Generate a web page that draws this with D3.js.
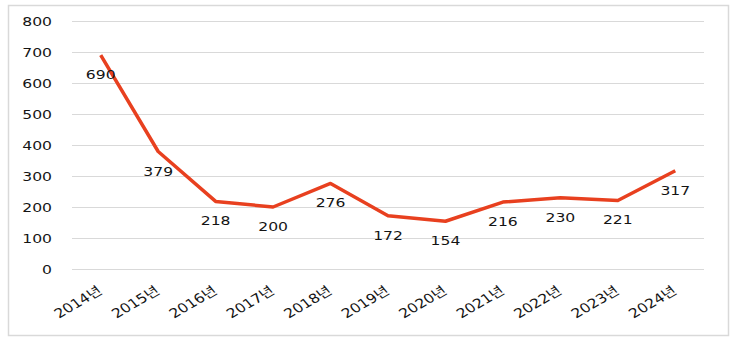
<!DOCTYPE html>
<html>
<head>
<meta charset="utf-8">
<script src="https://cdn.jsdelivr.net/npm/d3@7"></script>
<style>
  html, body { margin: 0; padding: 0; background: #fff; }
  svg { display: block; }
  text { font-family: "DejaVu Sans", Verdana, "Noto Sans CJK KR", sans-serif; fill: #141414; }
</style>
</head>
<body>
<svg id="chart" width="738" height="344"></svg>
<script>
// Yearly counts, 2014–2024
const years = ["2014년", "2015년", "2016년", "2017년", "2018년", "2019년", "2020년", "2021년", "2022년", "2023년", "2024년"];
const counts = [690, 379, 218, 200, 276, 172, 154, 216, 230, 221, 317];
const yTicks = [0, 100, 200, 300, 400, 500, 600, 700, 800];

const svg = d3.select("#chart");
const plot = { left: 72, right: 704, top: 21, bottom: 269 };
const stretch = 1.2; // wide lettering used for all chart text

// outer frame
svg.append("rect")
  .attr("x", 8.5).attr("y", 5.5)
  .attr("width", 720).attr("height", 330)
  .attr("fill", "#fff")
  .attr("stroke", "#d9d9d9").attr("stroke-width", 1.5);

const x = d3.scalePoint().domain(years).range([plot.left, plot.right]).padding(0.5);
const y = d3.scaleLinear().domain([0, 800]).range([plot.bottom, plot.top]);

// horizontal gridlines and value axis
const yAxis = svg.append("g")
  .attr("transform", `translate(${plot.left},0)`)
  .call(d3.axisLeft(y).tickValues(yTicks).tickSize(-(plot.right - plot.left)).tickPadding(0));
yAxis.select(".domain").remove();
yAxis.selectAll(".tick line").attr("stroke", "#d9d9d9").attr("stroke-width", 1.2);
yAxis.selectAll(".tick text")
  .attr("x", 0)
  .attr("font-size", 13)
  .attr("fill", "#141414")
  .attr("transform", `translate(-20,0) scale(${stretch},1)`);

// category axis labels, slanted
const xAxis = svg.append("g")
  .attr("transform", `translate(0,${plot.bottom})`)
  .call(d3.axisBottom(x).tickSize(0).tickPadding(0));
xAxis.select(".domain").remove();
xAxis.selectAll(".tick text")
  .attr("y", 0)
  .attr("dy", 0)
  .attr("font-size", 13)
  .attr("fill", "#141414")
  .attr("text-anchor", "end")
  .attr("transform", `translate(2,24) scale(${stretch},1) rotate(-35)`);

// line
const line = d3.line().x((d, i) => x(years[i])).y(d => y(d));
svg.append("path")
  .datum(counts)
  .attr("d", line)
  .attr("fill", "none")
  .attr("stroke", "#e8401f")
  .attr("stroke-width", 3.5)
  .attr("stroke-linejoin", "round");

// value labels below each point
svg.append("g").selectAll("text")
  .data(counts)
  .join("text")
  .attr("transform", (d, i) => `translate(${x(years[i])},${y(d) + 24}) scale(${stretch},1)`)
  .attr("text-anchor", "middle")
  .attr("font-size", 13)
  .text(d => d);
</script>
</body>
</html>
